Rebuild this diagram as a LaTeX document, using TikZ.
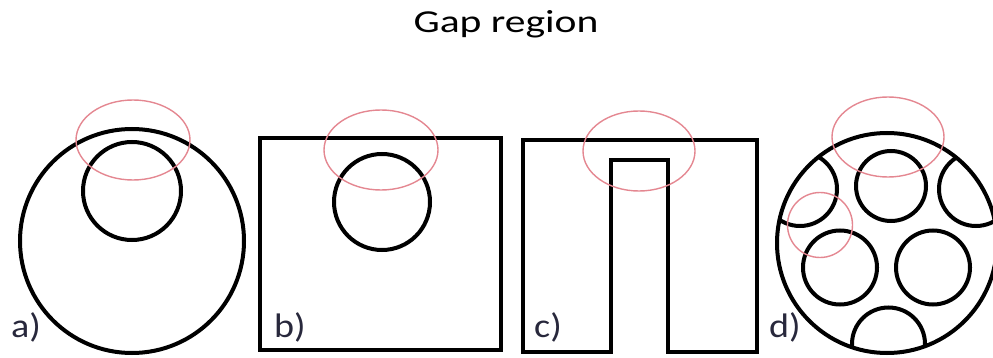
\documentclass[tikz,border=0pt]{standalone}
\usepackage{fontspec}
\setmainfont{Carlito}
\begin{document}
\begin{tikzpicture}[x=1pt,y=-1pt,
  outl/.style={draw=black,line width=4pt,line join=miter},
  gap/.style={draw={rgb,255:red,228;green,135;blue,145},line width=1.4pt},
  lbl/.style={anchor=base west,inner sep=0pt,font=\fontsize{34}{34}\selectfont,text={rgb,255:red,40;green,40;blue,60}}]
\useasboundingbox (0,0) rectangle (993,358);
% title
\node[anchor=base,inner sep=0pt,font=\fontsize{32}{32}\selectfont] (title) at (506,33) {\scalebox{1.3}[1]{Gap region}};
% a)
\draw[outl] (132,241) circle[radius=112];
\draw[outl] (132,191) circle[radius=49];
\draw[gap] (133,140) ellipse[x radius=57,y radius=40];
\node[lbl] (la) at (11,337) {\scalebox{1.12}[1]{a)}};
% b)
\draw[outl] (260,138) rectangle (501,350);
\draw[outl] (382,202) circle[radius=48];
\draw[gap] (381,150) ellipse[x radius=57,y radius=40];
\node[lbl] (lb) at (274,337) {\scalebox{1.12}[1]{b)}};
% c)
\draw[outl] (523,140) -- (757,140) -- (757,352) -- (668,352) -- (668,160) -- (611,160) -- (611,352) -- (523,352) -- cycle;
\draw[gap] (639,151) ellipse[x radius=56,y radius=40];
\node[lbl] (lc) at (534,337) {\scalebox{1.12}[1]{c)}};
% d)
\begin{scope}
\clip (887,243) circle[radius=110];
\draw[outl] (800,189) circle[radius=37];
\draw[outl] (976,189) circle[radius=37];
\draw[outl] (888.5,344) circle[radius=36.5];
\end{scope}
\draw[outl] (887,243) circle[radius=110];
\draw[outl] (891,186) circle[radius=35];
\draw[outl] (840,267.5) circle[radius=37];
\draw[outl] (933,267.5) circle[radius=37];
\draw[gap] (888,137) ellipse[x radius=56,y radius=40];
\draw[gap] (820,225) circle[radius=32.5];
\node[lbl] (ld) at (769,337) {\scalebox{1.12}[1]{d)}};
\end{tikzpicture}
\end{document}
